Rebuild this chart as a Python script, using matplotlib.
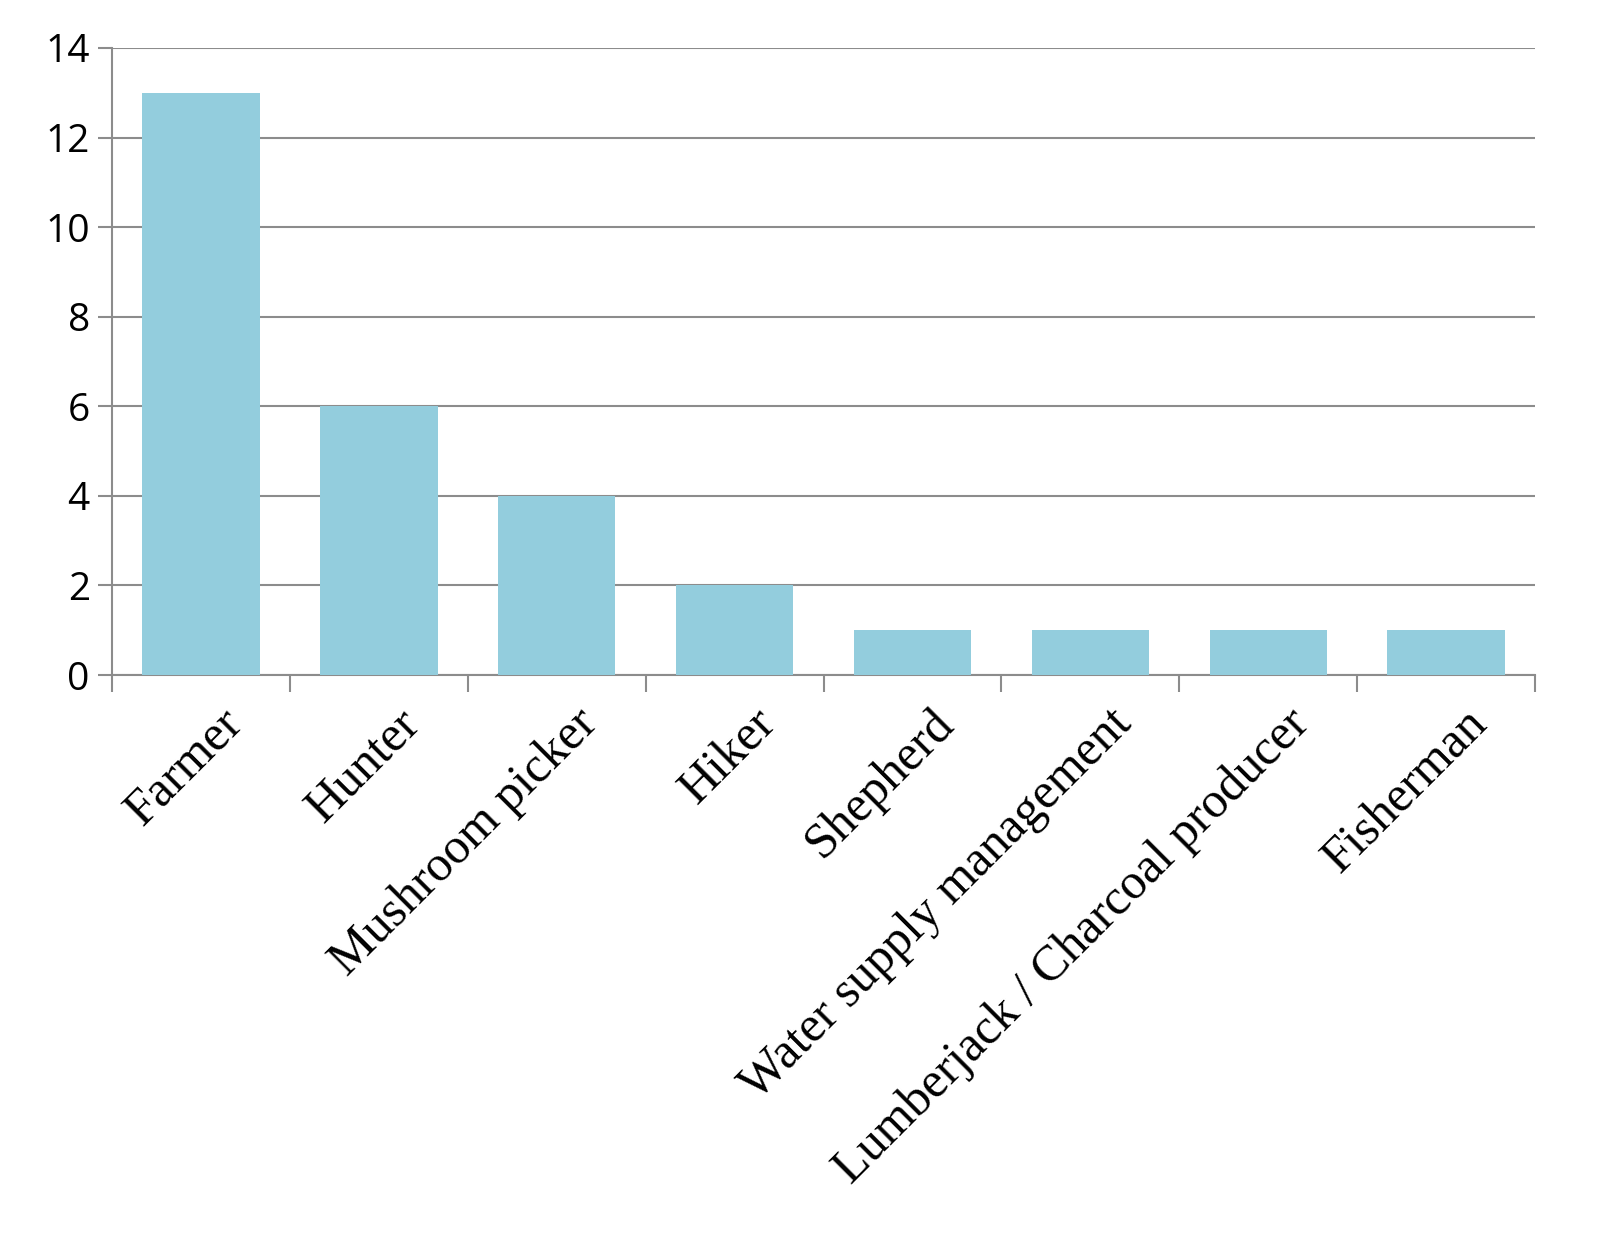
import matplotlib.pyplot as plt
import numpy as np

categories = ["Farmer", "Hunter", "Mushroom picker", "Hiker", "Shepherd",
              "Water supply management", "Lumberjack / Charcoal producer", "Fisherman"]
counts = [13, 6, 4, 2, 1, 1, 1, 1]

fig = plt.figure(figsize=(16.14, 12.42), dpi=100)
ax = fig.add_axes([0.0694, 0.4565, 0.8817, 0.5049])

x = np.arange(len(categories))
ax.bar(x, counts, width=0.66, color="#93CDDD", zorder=3)

ax.set_xlim(-0.5, len(categories) - 0.5)
ax.set_ylim(0, 14)
ax.set_yticks(range(0, 15, 2))
ax.yaxis.grid(True, color="#8c8c8c", linewidth=1.5, zorder=0)
for lab in ax.get_yticklabels():
    lab.set_fontfamily("Open Sans")
ax.tick_params(axis="y", labelsize=28, length=10, width=1.5, color="#8c8c8c", pad=6)

# category labels at bar centres, tick marks between categories
ax.set_xticks(x + 0.1)
ax.set_xticklabels(categories, rotation=45, ha="right", rotation_mode="anchor",
                   fontfamily="Liberation Serif", fontsize=36)
ax.tick_params(axis="x", length=0, pad=18)
ax.set_xticks(np.arange(-0.5, len(categories)), minor=True)
ax.tick_params(axis="x", which="minor", length=12, width=1.5, color="#8c8c8c")

for s in ["top", "right"]:
    ax.spines[s].set_visible(False)
for s in ["left", "bottom"]:
    ax.spines[s].set_color("#8c8c8c")
    ax.spines[s].set_linewidth(1.5)

fig.savefig("out.png", dpi=100)
